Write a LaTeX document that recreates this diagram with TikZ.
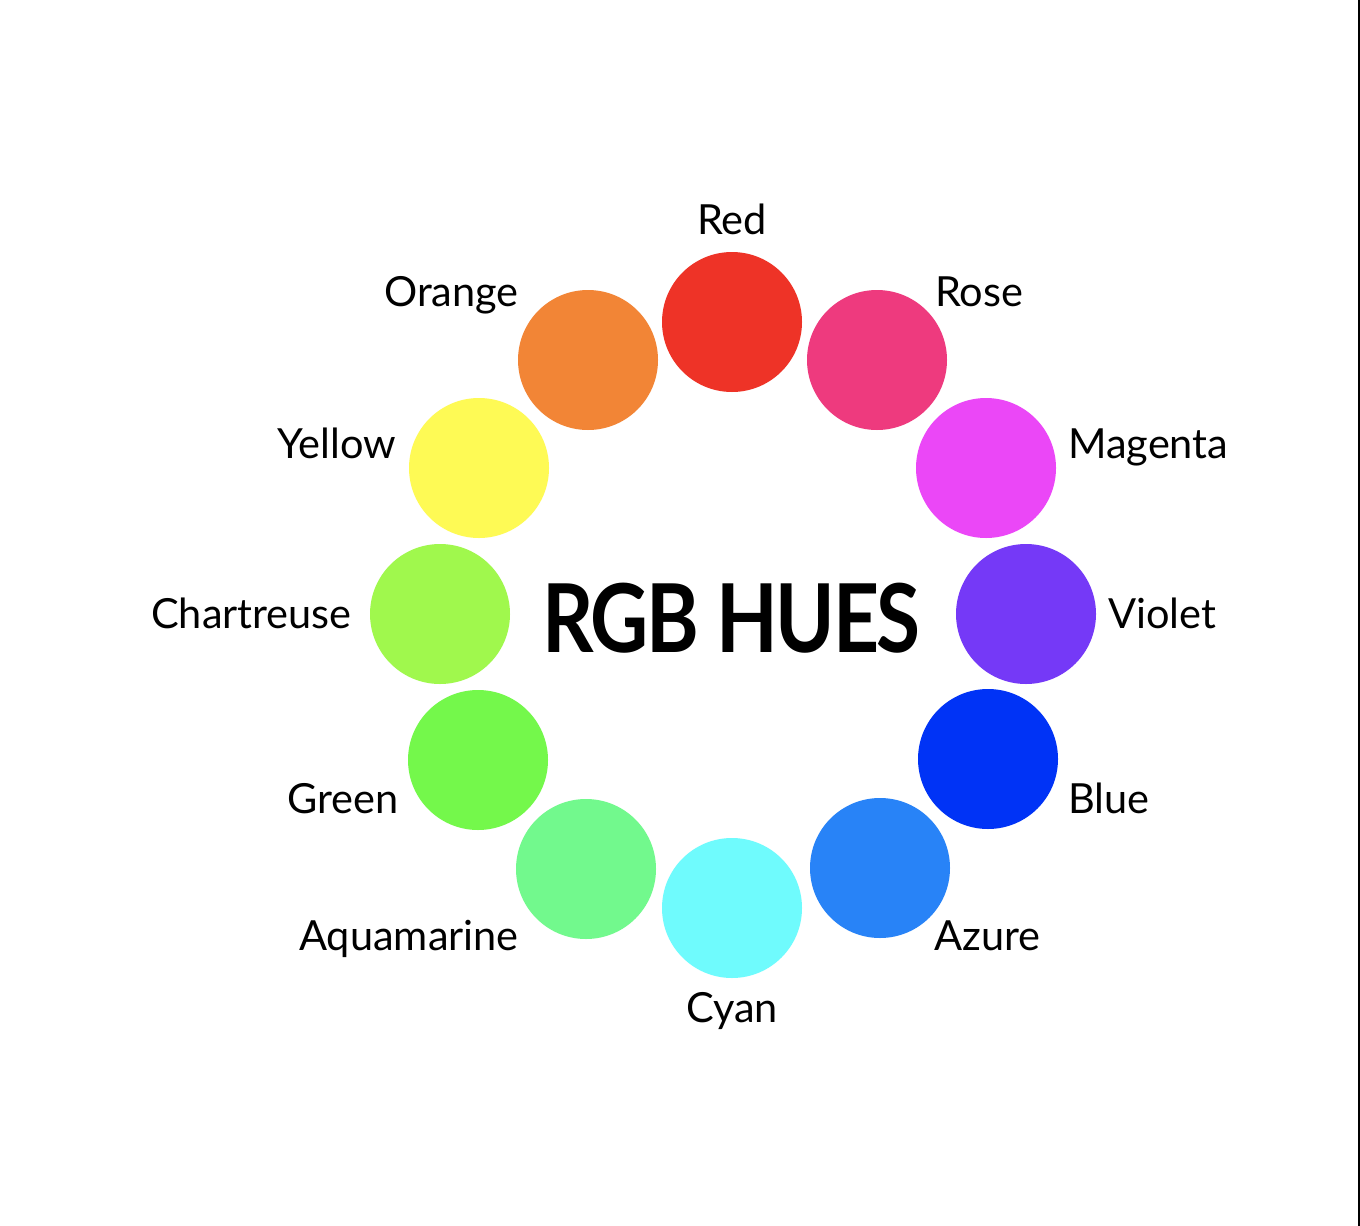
\documentclass[tikz,border=0pt]{standalone}
\usepackage{fontspec}
\setmainfont{Lato}
\newfontfamily\titlefont[LetterSpace=-3]{Lato}
\begin{document}
\begin{tikzpicture}[x=1pt,y=-1pt,
  hue/.style={circle,minimum size=140pt,inner sep=0pt,draw=none},
  lbl/.style={font=\fontsize{41.5}{44}\selectfont,inner sep=0pt,text=black},
  ttl/.style={font=\titlefont\fontsize{95}{100}\selectfont\bfseries,inner sep=0pt,xscale=0.844}]
\definecolor{cRed}{HTML}{EE3327}
\definecolor{cRose}{HTML}{EE3A7E}
\definecolor{cOrange}{HTML}{F28536}
\definecolor{cMagenta}{HTML}{EB47F7}
\definecolor{cYellow}{HTML}{FEFA55}
\definecolor{cViolet}{HTML}{7539F7}
\definecolor{cChart}{HTML}{A0F84D}
\definecolor{cBlue}{HTML}{0033F6}
\definecolor{cGreen}{HTML}{74F84B}
\definecolor{cAzure}{HTML}{2883F7}
\definecolor{cAqua}{HTML}{72F98D}
\definecolor{cCyan}{HTML}{6FFBFD}
\useasboundingbox[fill=white] (0,0) rectangle (1360,1226);
\draw[line width=2pt] (1358.5,0) -- (1358.5,1226);

\node[hue,fill=cRed] (red) at (732,322) {};
\node[hue,fill=cRose] (rose) at (877,360) {};
\node[hue,fill=cMagenta] (magenta) at (986,468) {};
\node[hue,fill=cViolet] (violet) at (1026,614) {};
\node[hue,fill=cBlue] (blue) at (988,759) {};
\node[hue,fill=cAzure] (azure) at (880,868) {};
\node[hue,fill=cCyan] (cyan) at (732,908) {};
\node[hue,fill=cAqua] (aqua) at (586,869) {};
\node[hue,fill=cGreen] (green) at (478,760) {};
\node[hue,fill=cChart] (chart) at (440,614) {};
\node[hue,fill=cYellow] (yellow) at (479,468) {};
\node[hue,fill=cOrange] (orange) at (588,360) {};

\node[lbl,anchor=base] (lred) at (732,234) {Red};
\node[lbl,anchor=base west] (lrose) at (935,306) {Rose};
\node[lbl,anchor=base east] (lorange) at (519,306) {Orange};
\node[lbl,anchor=base west] (lmagenta) at (1068,458) {Magenta};
\node[lbl,anchor=base east] (lyellow) at (396,458) {Yellow};
\node[lbl,anchor=base west] (lviolet) at (1108,628) {Violet};
\node[lbl,anchor=base east] (lchart) at (352,628) {Chartreuse};
\node[lbl,anchor=base west] (lblue) at (1068,813) {Blue};
\node[lbl,anchor=base east] (lgreen) at (399,813) {Green};
\node[lbl,anchor=base west] (lazure) at (934,950) {Azure};
\node[lbl,anchor=base east] (laqua) at (519,950) {Aquamarine};
\node[lbl,anchor=base] (lcyan) at (732,1022) {Cyan};

\node[ttl,anchor=base] (title) at (731.5,652) {RGB HUES};
\end{tikzpicture}
\end{document}
